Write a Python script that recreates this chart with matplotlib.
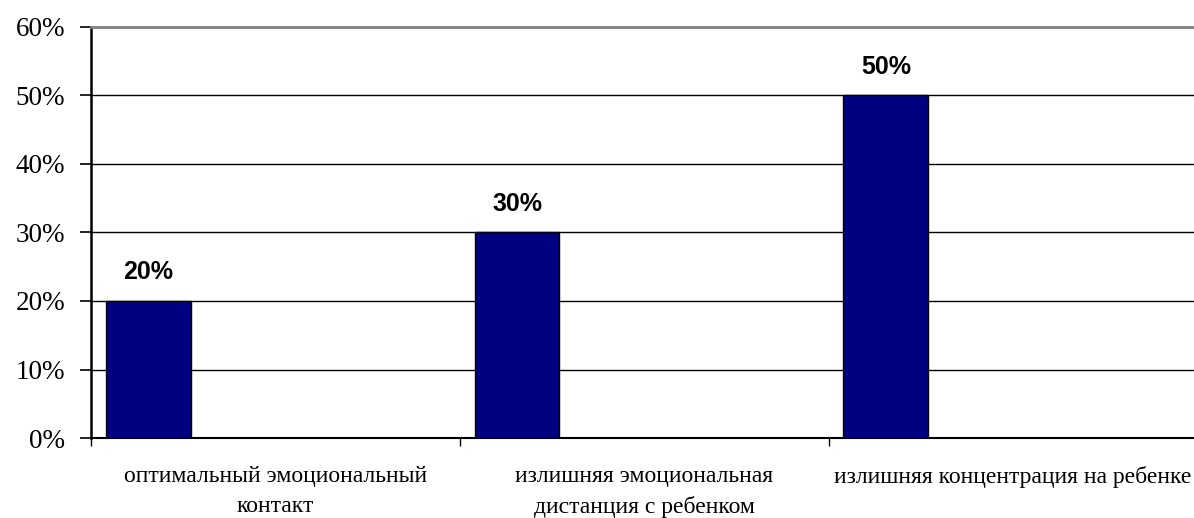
import matplotlib.pyplot as plt
import matplotlib.ticker as ticker

categories = ['оптимальный эмоциональный\nконтакт',
              'излишняя эмоциональная\nдистанция с ребенком',
              'излишняя концентрация на ребенке']
values = [20, 30, 50]
y_ticks = [0, 10, 20, 30, 40, 50, 60]

fig = plt.figure(figsize=(11.94, 5.18), dpi=100)
ax = fig.add_axes([0.0762, 0.1544, 0.9268, 0.7936])

positions = [i + 0.04 for i in range(len(values))]
bars = ax.bar(positions, values, width=0.23, align='edge',
              color='#000080', edgecolor='black', linewidth=1, zorder=3)

for bar, v in zip(bars, values):
    ax.annotate(f'{v}%', (bar.get_x() + bar.get_width() / 2, v),
                xytext=(0, 12), textcoords='offset points',
                ha='center', va='bottom', fontsize=18, fontweight='bold',
                family='Liberation Sans')

ax.set_xlim(0, 3)
ax.set_ylim(0, 60)
ax.set_yticks(y_ticks)
ax.yaxis.set_major_formatter(ticker.FuncFormatter(lambda v, p: f'{v:.0f}%'))
for lbl in ax.get_yticklabels():
    lbl.set_family('Liberation Serif')
    lbl.set_fontsize(19.5)

ax.set_xticks([0, 1, 2, 3])
ax.set_xticklabels([])
ax.set_xticks([0.5, 1.5, 2.5], minor=True)
ax.set_xticklabels(categories, minor=True, family='Liberation Serif', fontsize=17,
                   linespacing=1.55)
ax.tick_params(axis='x', which='minor', length=0, pad=20)
ax.tick_params(axis='x', which='major', length=6, width=1, direction='out')
ax.tick_params(axis='y', length=8, width=1.2, direction='out', pad=10.5)

for y in y_ticks[1:-1]:
    ax.axhline(y, color='black', linewidth=1, zorder=1)

ax.spines['right'].set_visible(False)
ax.spines['top'].set_color('gray')
ax.spines['top'].set_linewidth(2)
ax.spines['left'].set_linewidth(1.8)
ax.spines['bottom'].set_linewidth(1.5)

fig.savefig('out.png', dpi=100)
